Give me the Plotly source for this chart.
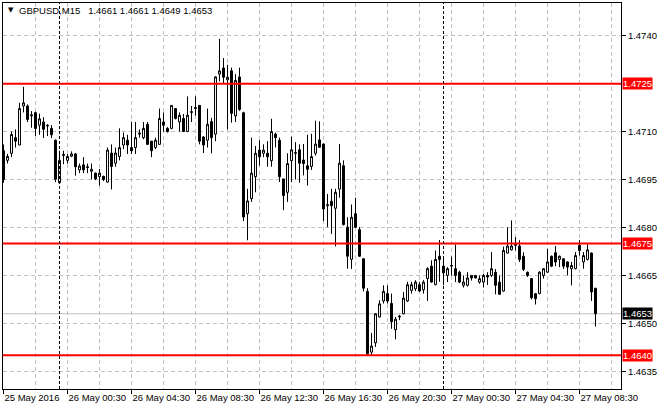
import plotly.graph_objects as go

# GBPUSD M15, 25 May 20:30 .. 27 May 09:30 (one value per bar)
opens = [
    1.47040, 1.47010, 1.47032, 1.47081, 1.47058, 1.47180, 1.47180, 1.47149, 1.47159, 1.47120,
    1.47130, 1.47120, 1.47110, 1.47073, 1.46940, 1.47025, 1.47010, 1.47023, 1.47030, 1.46980,
    1.46996, 1.46990, 1.46976, 1.46970, 1.46959, 1.46960, 1.46942, 1.47033, 1.47001, 1.47022,
    1.47058, 1.47073, 1.47050, 1.47050, 1.47092, 1.47081, 1.47123, 1.47070, 1.47050, 1.47060,
    1.47130, 1.47110, 1.47110, 1.47172, 1.47130, 1.47141, 1.47100, 1.47160, 1.47172, 1.47182,
    1.47083, 1.47073, 1.47131, 1.47092, 1.47280, 1.47299, 1.47262, 1.47290, 1.47149, 1.47271,
    1.47159, 1.46843, 1.46890, 1.46959, 1.47042, 1.47032, 1.47032, 1.47009, 1.47092, 1.47073,
    1.46952, 1.46910, 1.47009, 1.47032, 1.47043, 1.47011, 1.46993, 1.46991, 1.47032, 1.47074,
    1.47061, 1.46868, 1.46882, 1.46860, 1.46920, 1.46993, 1.46801, 1.46700, 1.46843, 1.46793,
    1.46702, 1.46600, 1.46410, 1.46439, 1.46520, 1.46570, 1.46593, 1.46562, 1.46480, 1.46520,
    1.46530, 1.46570, 1.46603, 1.46608, 1.46621, 1.46605, 1.46640, 1.46679, 1.46621, 1.46710,
    1.46679, 1.46650, 1.46679, 1.46671, 1.46660, 1.46619, 1.46619, 1.46650, 1.46650, 1.46629,
    1.46629, 1.46650, 1.46650, 1.46660, 1.46629, 1.46601, 1.46720, 1.46730, 1.46744, 1.46742,
    1.46710, 1.46660, 1.46640, 1.46593, 1.46593, 1.46650, 1.46660, 1.46710, 1.46721, 1.46700,
    1.46702, 1.46692, 1.46671, 1.46671, 1.46744, 1.46692, 1.46700, 1.46720, 1.46610,
]
highs = [
    1.47060, 1.47030, 1.47100, 1.47107, 1.47190, 1.47240, 1.47185, 1.47164, 1.47162, 1.47156,
    1.47145, 1.47123, 1.47120, 1.47075, 1.47040, 1.47040, 1.47030, 1.47038, 1.47033, 1.47000,
    1.47020, 1.47000, 1.47000, 1.46972, 1.46983, 1.46962, 1.47050, 1.47060, 1.47050, 1.47110,
    1.47097, 1.47090, 1.47131, 1.47130, 1.47107, 1.47130, 1.47130, 1.47070, 1.47081, 1.47172,
    1.47160, 1.47114, 1.47182, 1.47172, 1.47160, 1.47155, 1.47210, 1.47180, 1.47210, 1.47182,
    1.47086, 1.47172, 1.47143, 1.47273, 1.47390, 1.47330, 1.47309, 1.47300, 1.47280, 1.47300,
    1.47162, 1.46921, 1.47081, 1.47055, 1.47073, 1.47060, 1.47070, 1.47140, 1.47097, 1.47081,
    1.46952, 1.47032, 1.47084, 1.47067, 1.47060, 1.47061, 1.47090, 1.47093, 1.47134, 1.47132,
    1.47063, 1.46905, 1.46921, 1.46921, 1.47061, 1.47010, 1.46832, 1.46872, 1.46893, 1.46801,
    1.46704, 1.46610, 1.46470, 1.46532, 1.46572, 1.46619, 1.46619, 1.46593, 1.46520, 1.46527,
    1.46598, 1.46630, 1.46630, 1.46635, 1.46630, 1.46635, 1.46676, 1.46697, 1.46728, 1.46761,
    1.46707, 1.46676, 1.46709, 1.46747, 1.46665, 1.46650, 1.46660, 1.46650, 1.46650, 1.46650,
    1.46655, 1.46660, 1.46723, 1.46670, 1.46650, 1.46740, 1.46801, 1.46822, 1.46770, 1.46760,
    1.46722, 1.46662, 1.46642, 1.46595, 1.46663, 1.46673, 1.46733, 1.46712, 1.46742, 1.46712,
    1.46704, 1.46694, 1.46692, 1.46723, 1.46761, 1.46723, 1.46747, 1.46722, 1.46610,
]
lows = [
    1.46940, 1.47000, 1.47020, 1.47050, 1.47058, 1.47160, 1.47130, 1.47112, 1.47086, 1.47090,
    1.47080, 1.47086, 1.47080, 1.46942, 1.46937, 1.46998, 1.47000, 1.47020, 1.46962, 1.46970,
    1.46970, 1.46970, 1.46950, 1.46948, 1.46931, 1.46945, 1.46940, 1.46919, 1.46990, 1.47010,
    1.47045, 1.47030, 1.47030, 1.47030, 1.47081, 1.47076, 1.47058, 1.47020, 1.47045, 1.47060,
    1.47100, 1.47097, 1.47107, 1.47138, 1.47100, 1.47100, 1.47100, 1.47130, 1.47150, 1.47060,
    1.47033, 1.47050, 1.47032, 1.47070, 1.47257, 1.47250, 1.47107, 1.47128, 1.47130, 1.47165,
    1.46820, 1.46760, 1.46880, 1.46910, 1.46993, 1.47020, 1.46990, 1.46990, 1.47050, 1.46942,
    1.46854, 1.46880, 1.46942, 1.46950, 1.46940, 1.46963, 1.46931, 1.46980, 1.47025, 1.47049,
    1.46820, 1.46801, 1.46780, 1.46741, 1.46893, 1.46806, 1.46671, 1.46670, 1.46799, 1.46708,
    1.46600, 1.46400, 1.46400, 1.46426, 1.46518, 1.46562, 1.46562, 1.46483, 1.46450, 1.46510,
    1.46528, 1.46567, 1.46593, 1.46601, 1.46598, 1.46593, 1.46570, 1.46627, 1.46619, 1.46630,
    1.46619, 1.46629, 1.46650, 1.46629, 1.46626, 1.46612, 1.46615, 1.46634, 1.46640, 1.46624,
    1.46612, 1.46620, 1.46645, 1.46591, 1.46589, 1.46599, 1.46718, 1.46728, 1.46728, 1.46692,
    1.46664, 1.46645, 1.46575, 1.46559, 1.46591, 1.46640, 1.46658, 1.46676, 1.46679, 1.46676,
    1.46670, 1.46650, 1.46619, 1.46669, 1.46712, 1.46671, 1.46697, 1.46570, 1.46490,
]
closes = [
    1.46950, 1.47022, 1.47091, 1.47070, 1.47172, 1.47190, 1.47138, 1.47152, 1.47110, 1.47140,
    1.47107, 1.47118, 1.47090, 1.46951, 1.47010, 1.47028, 1.47022, 1.47030, 1.46990, 1.46992,
    1.46980, 1.46988, 1.46982, 1.46952, 1.46970, 1.46950, 1.47042, 1.46991, 1.47033, 1.47050,
    1.47081, 1.47058, 1.47040, 1.47081, 1.47095, 1.47110, 1.47060, 1.47040, 1.47073, 1.47141,
    1.47120, 1.47100, 1.47182, 1.47141, 1.47151, 1.47100, 1.47151, 1.47162, 1.47175, 1.47070,
    1.47058, 1.47123, 1.47081, 1.47271, 1.47290, 1.47270, 1.47270, 1.47157, 1.47260, 1.47169,
    1.46833, 1.46883, 1.46970, 1.47032, 1.47021, 1.47042, 1.47021, 1.47100, 1.47081, 1.46959,
    1.46900, 1.47000, 1.47043, 1.47034, 1.47001, 1.47000, 1.46982, 1.47022, 1.47061, 1.47051,
    1.46858, 1.46871, 1.46868, 1.46910, 1.47001, 1.46809, 1.46710, 1.46832, 1.46801, 1.46710,
    1.46610, 1.46405, 1.46429, 1.46530, 1.46561, 1.46600, 1.46570, 1.46505, 1.46513, 1.46522,
    1.46579, 1.46621, 1.46621, 1.46629, 1.46601, 1.46629, 1.46671, 1.46629, 1.46700, 1.46700,
    1.46658, 1.46671, 1.46681, 1.46650, 1.46629, 1.46629, 1.46642, 1.46642, 1.46642, 1.46640,
    1.46650, 1.46645, 1.46671, 1.46619, 1.46591, 1.46728, 1.46742, 1.46742, 1.46746, 1.46700,
    1.46669, 1.46650, 1.46580, 1.46577, 1.46660, 1.46671, 1.46692, 1.46679, 1.46692, 1.46710,
    1.46679, 1.46676, 1.46681, 1.46712, 1.46728, 1.46712, 1.46730, 1.46598, 1.46530,
]

x_label_bars = [0, 16, 32, 48, 64, 80, 96, 112, 128, 144]
x_labels = ["25 May 2016", "26 May 00:30", "26 May 04:30", "26 May 08:30", "26 May 12:30",
            "26 May 16:30", "26 May 20:30", "27 May 00:30", "27 May 04:30", "27 May 08:30"]
day_breaks = [14, 110]

y_ticks = [1.4740, 1.4710, 1.4695, 1.4680, 1.4665, 1.4650, 1.4635]
levels = [1.4725, 1.4675, 1.4640]
last_price = 1.4653
header = "GBPUSD,M15\u00a0\u00a0 1.4661 1.4661 1.4649 1.4653"

bars = list(range(len(opens)))
grid = "#c0c0c0"
font = "Liberation Sans"

fig = go.Figure(go.Candlestick(
    x=bars, open=opens, high=highs, low=lows, close=closes,
    increasing=dict(fillcolor="white", line=dict(color="black", width=1)),
    decreasing=dict(fillcolor="black", line=dict(color="black", width=1)),
    whiskerwidth=0, hoverinfo="skip", showlegend=False,
))

# current price line
fig.add_shape(type="line", xref="paper", x0=0, x1=1, y0=last_price, y1=last_price,
              line=dict(color=grid, width=1), layer="below")

# support / resistance lines
for lv in levels:
    fig.add_shape(type="line", xref="paper", x0=0, x1=1, y0=lv, y1=lv,
                  line=dict(color="#ff0000", width=2), layer="above")
    fig.add_annotation(x=1, xref="paper", xanchor="left", xshift=1, y=lv, yref="y",
                       text=f"{lv:.4f}", showarrow=False, bgcolor="#ff0000",
                       borderpad=0, font=dict(color="white", size=9.5, family=font))

fig.add_annotation(x=1, xref="paper", xanchor="left", xshift=1, y=last_price, yref="y",
                   text=f"{last_price:.4f}", showarrow=False, bgcolor="black",
                   borderpad=0, font=dict(color="white", size=9.5, family=font))

# day separators
for b in day_breaks:
    fig.add_shape(type="line", x0=b, x1=b, yref="paper", y0=0, y1=1,
                  line=dict(color="black", width=1, dash="3px,2px"), layer="above")

# symbol header
fig.add_annotation(x=0, xref="paper", xanchor="left", xshift=3, y=1, yref="paper",
                   yanchor="middle", yshift=-7, text="\u25bc", showarrow=False,
                   font=dict(size=7, color="black", family="DejaVu Sans"))
fig.add_annotation(x=0, xref="paper", xanchor="left", xshift=14, y=1, yref="paper",
                   yanchor="middle", yshift=-7, text=header, showarrow=False,
                   font=dict(size=9.5, color="black", family=font))

fig.update_layout(
    width=660, height=410,
    margin=dict(l=3, r=39, t=3, b=21),
    paper_bgcolor="white", plot_bgcolor="white",
    font=dict(family=font, size=9.5, color="black"),
    xaxis=dict(
        range=[-0.125, 154.375], rangeslider=dict(visible=False),
        tickmode="array", tickvals=x_label_bars, ticktext=x_labels, tickangle=0,
        ticklabelposition="outside right", ticks="outside", ticklen=4, tickcolor="black",
        showgrid=True, gridcolor=grid, griddash="4px,3px", gridwidth=1,
        minor=dict(tick0=0, dtick=8, showgrid=True, gridcolor=grid, griddash="4px,3px"),
        showline=True, linecolor="black", linewidth=1, mirror=True, zeroline=False,
        automargin=False,
    ),
    yaxis=dict(
        side="right", range=[1.462946, 1.475023],
        tickmode="array", tickvals=y_ticks, ticktext=[f"{v:.4f}" for v in y_ticks],
        ticks="outside", ticklen=4, tickcolor="black",
        showgrid=True, gridcolor=grid, griddash="4px,3px", gridwidth=1,
        showline=True, linecolor="black", linewidth=1, mirror=True, zeroline=False,
        automargin=False,
    ),
)

# page body has a default 8px margin; drop it so the chart fills the window
fig.write_html("out.html", config={"displayModeBar": False},
               post_script="document.body.style.margin='0px';")
